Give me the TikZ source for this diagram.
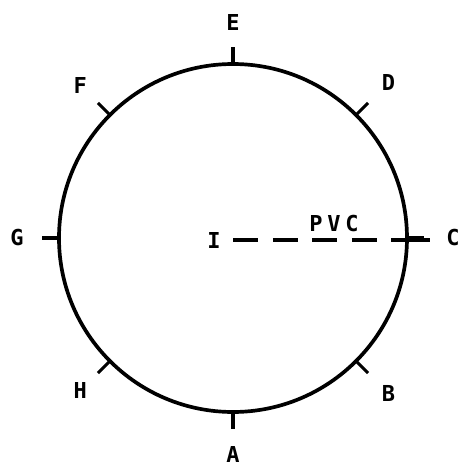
\documentclass[tikz,border=0pt]{standalone}
\usepackage{fontspec}
\newfontfamily\lblfont{DejaVu Sans Mono Bold}
\newfontfamily\pvcfont{DejaVu Sans Mono Bold}[LetterSpace=22]
\begin{document}
\begin{tikzpicture}[x=0.02cm, y=0.02cm,
    lbl/.style={font=\lblfont\fontsize{12.5}{14}\selectfont, inner sep=2pt},
    rim/.style={line width=2.1pt},
    tick/.style={line width=1.8pt},
    pvcline/.style={line width=1.9pt, shorten <=0.18cm,
        dash pattern=on 0.5cm off 0.29cm on 0.5cm off 0.29cm on 0.5cm off 0.29cm on 0.5cm off 0.29cm on 0.8cm off 1cm}]
    \useasboundingbox (-233,-230) rectangle (232,238);

    % Circle
    \coordinate (O) at (0,0);
    \draw[rim] (O) circle (174);

    % Ticks
    \draw[tick] (90:174) -- (90:191);
    \draw[tick] (45:174) -- (45:191);
    \draw[tick] (0:174) -- (0:191);
    \draw[tick] (-45:174) -- (-45:191);
    \draw[tick] (-90:174) -- (-90:191);
    \draw[tick] (-135:174) -- (-135:191);
    \draw[tick] (180:174) -- (180:191);
    \draw[tick] (135:174) -- (135:191);

    % Labels
    \node[lbl] (E) at (90:216) {E};
    \node[lbl] (D) at (45:220) {D};
    \node[lbl] (C) at (0:220) {C};
    \node[lbl] (B) at (-45:220) {B};
    \node[lbl] (A) at (-90:216) {A};
    \node[lbl] (H) at (-135:216) {H};
    \node[lbl] (G) at (180:216) {G};
    \node[lbl] (F) at (135:216) {F};

    % PVC
    \node[lbl] (I) at (-19,-2) {I};
    \coordinate (pvcend) at (197,-2);
    \draw[pvcline] (I) -- (pvcend);
    \node[lbl, font=\pvcfont\fontsize{12.5}{14}\selectfont] (pvc) at (101,14) {PVC};
\end{tikzpicture}
\end{document}
